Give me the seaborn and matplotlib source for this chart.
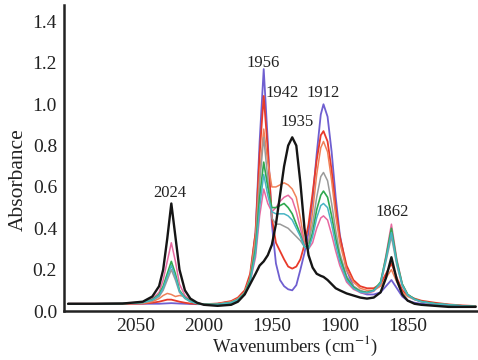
import numpy as np
import pandas as pd
import seaborn as sns
import matplotlib
matplotlib.use("Agg")
import matplotlib.pyplot as plt

wavenumbers = [2100, 2080, 2060, 2045, 2038, 2033, 2030, 2027, 2024, 2021, 2018, 2014, 2010, 2005, 2000,
               1990, 1980, 1975, 1970, 1966, 1962, 1959, 1956, 1953, 1950, 1947, 1944, 1941, 1938, 1935,
               1932, 1929, 1926, 1923, 1920, 1917, 1914, 1912, 1909, 1906, 1903, 1900, 1895, 1890, 1885,
               1880, 1875, 1870, 1866, 1862, 1858, 1854, 1850, 1845, 1840, 1830, 1820, 1810, 1800]

purple = [0.035, 0.035, 0.035, 0.035, 0.035, 0.035, 0.036, 0.037, 0.038, 0.037, 0.036, 0.035, 0.034, 0.033, 0.033,
          0.035, 0.045, 0.06, 0.09, 0.16, 0.38, 0.82, 1.17, 0.82, 0.42, 0.23, 0.15, 0.12, 0.105, 0.1,
          0.125, 0.2, 0.28, 0.38, 0.54, 0.76, 0.95, 1.0, 0.94, 0.77, 0.55, 0.37, 0.2, 0.12, 0.09,
          0.08, 0.08, 0.09, 0.12, 0.15, 0.11, 0.07, 0.05, 0.04, 0.035, 0.03, 0.026, 0.024, 0.022]

red = [0.035, 0.035, 0.035, 0.036, 0.04, 0.045, 0.05, 0.055, 0.055, 0.05, 0.045, 0.04, 0.036, 0.034, 0.033,
       0.036, 0.048, 0.065, 0.1, 0.18, 0.38, 0.76, 1.04, 0.78, 0.45, 0.33, 0.29, 0.25, 0.215, 0.205,
       0.215, 0.25, 0.32, 0.42, 0.57, 0.73, 0.85, 0.87, 0.82, 0.68, 0.5, 0.36, 0.22, 0.15, 0.12,
       0.11, 0.11, 0.13, 0.18, 0.23, 0.16, 0.1, 0.075, 0.06, 0.05, 0.04, 0.032, 0.027, 0.024]

orange = [0.035, 0.035, 0.035, 0.037, 0.045, 0.06, 0.075, 0.085, 0.08, 0.07, 0.075, 0.07, 0.05, 0.038, 0.033,
          0.035, 0.045, 0.06, 0.09, 0.16, 0.36, 0.66, 0.88, 0.72, 0.6, 0.6, 0.61, 0.62, 0.61, 0.59,
          0.55, 0.45, 0.33, 0.33, 0.48, 0.66, 0.79, 0.82, 0.77, 0.63, 0.46, 0.33, 0.2, 0.14, 0.11,
          0.1, 0.1, 0.12, 0.16, 0.2, 0.14, 0.09, 0.07, 0.055, 0.045, 0.035, 0.03, 0.025, 0.022]

gray = [0.035, 0.035, 0.036, 0.04, 0.05, 0.07, 0.1, 0.15, 0.2, 0.15, 0.09, 0.06, 0.045, 0.036, 0.032,
        0.033, 0.042, 0.058, 0.09, 0.16, 0.33, 0.62, 0.84, 0.64, 0.45, 0.42, 0.42, 0.41, 0.4, 0.38,
        0.36, 0.34, 0.31, 0.33, 0.42, 0.55, 0.65, 0.67, 0.63, 0.52, 0.39, 0.28, 0.17, 0.12, 0.1,
        0.09, 0.1, 0.13, 0.24, 0.36, 0.22, 0.12, 0.075, 0.055, 0.045, 0.035, 0.03, 0.025, 0.022]

green = [0.035, 0.035, 0.036, 0.042, 0.055, 0.08, 0.12, 0.18, 0.24, 0.18, 0.1, 0.065, 0.048, 0.037, 0.032,
         0.032, 0.04, 0.055, 0.085, 0.15, 0.3, 0.55, 0.72, 0.6, 0.5, 0.5, 0.51, 0.52, 0.5, 0.47,
         0.42, 0.37, 0.31, 0.31, 0.38, 0.49, 0.56, 0.58, 0.55, 0.46, 0.35, 0.26, 0.16, 0.115, 0.095,
         0.09, 0.1, 0.14, 0.26, 0.4, 0.24, 0.13, 0.08, 0.058, 0.046, 0.036, 0.03, 0.025, 0.022]

teal = [0.035, 0.035, 0.036, 0.041, 0.053, 0.075, 0.11, 0.165, 0.22, 0.165, 0.095, 0.062, 0.046, 0.036, 0.032,
        0.032, 0.04, 0.054, 0.083, 0.14, 0.28, 0.5, 0.66, 0.56, 0.48, 0.47, 0.47, 0.47, 0.46, 0.44,
        0.4, 0.36, 0.31, 0.3, 0.36, 0.45, 0.51, 0.52, 0.5, 0.42, 0.32, 0.24, 0.15, 0.11, 0.092,
        0.088, 0.098, 0.135, 0.25, 0.38, 0.23, 0.125, 0.078, 0.056, 0.045, 0.035, 0.03, 0.025, 0.022]

pink = [0.035, 0.035, 0.037, 0.043, 0.06, 0.09, 0.15, 0.24, 0.33, 0.24, 0.13, 0.075, 0.05, 0.038, 0.032,
        0.03, 0.038, 0.052, 0.08, 0.14, 0.26, 0.46, 0.59, 0.52, 0.48, 0.5, 0.53, 0.55, 0.56, 0.54,
        0.48, 0.4, 0.32, 0.3, 0.33, 0.4, 0.45, 0.46, 0.44, 0.37, 0.29, 0.22, 0.14, 0.105, 0.09,
        0.085, 0.095, 0.135, 0.27, 0.42, 0.25, 0.13, 0.08, 0.057, 0.045, 0.035, 0.03, 0.025, 0.022]

black = [0.035, 0.035, 0.036, 0.045, 0.07, 0.12, 0.2, 0.35, 0.52, 0.36, 0.2, 0.1, 0.06, 0.04, 0.03,
         0.025, 0.03, 0.045, 0.08, 0.13, 0.18, 0.22, 0.24, 0.27, 0.32, 0.42, 0.56, 0.7, 0.8, 0.84,
         0.8, 0.62, 0.4, 0.27, 0.21, 0.18, 0.17, 0.165, 0.15, 0.13, 0.11, 0.1, 0.085, 0.075, 0.065,
         0.06, 0.065, 0.09, 0.16, 0.26, 0.15, 0.08, 0.05, 0.035, 0.03, 0.025, 0.02, 0.02, 0.02]

series_names = ["purple", "red", "orange", "gray", "pink", "green", "teal", "black"]
series_values = [purple, red, orange, gray, pink, green, teal, black]
series_colors = ["#6f5fd0", "#e83a2a", "#f08058", "#9a9a9a", "#e868a0", "#2fa84f", "#48b4c4", "#151515"]
series_widths = [1.3, 1.3, 1.1, 1.1, 1.1, 1.2, 1.1, 1.7]

peak_labels = ["2024", "1956", "1942", "1935", "1912", "1862"]
peak_label_x = [2025, 1956.6, 1942.6, 1931.6, 1912.5, 1861.8]
peak_label_y = [0.57, 1.20, 1.056, 0.916, 1.056, 0.48]

x_ticks = [2050, 2000, 1950, 1900, 1850]
y_ticks = [0.0, 0.2, 0.4, 0.6, 0.8, 1.0, 1.2, 1.4]

rows = []
for name, vals in zip(series_names, series_values):
    for w, v in zip(wavenumbers, vals):
        rows.append({"wn": w, "absorbance": v, "series": name})
df = pd.DataFrame(rows)

sns.set_style("white")
plt.rcParams['font.family'] = ['Liberation Serif', 'DejaVu Serif']
plt.rcParams['mathtext.fontset'] = 'stix'

fig = plt.figure(figsize=(4.78, 3.6), dpi=100)
ax = fig.add_axes([64 / 478, 49 / 360, 413 / 478, 306 / 360])

for name, col, lw in zip(series_names, series_colors, series_widths):
    sub = df[df["series"] == name]
    sns.lineplot(data=sub, x="wn", y="absorbance", color=col, linewidth=lw, sort=False, ax=ax, legend=False)

for t, x, y in zip(peak_labels, peak_label_x, peak_label_y):
    ax.text(x, y, t, ha="center", va="center", fontsize=12, color="#222222")

ax.set_xlim(2103, 1799)
ax.set_ylim(0, 1.48)
ax.set_xticks(x_ticks)
ax.set_yticks(y_ticks)
ax.set_yticklabels([f"{v:.1f}" for v in y_ticks])
ax.tick_params(axis="both", labelsize=14, colors="#333333", length=3, width=1, direction="out", pad=2)
ax.tick_params(axis="both", labelcolor="#222222")
for s in ["top", "right"]:
    ax.spines[s].set_visible(False)
for s in ["left", "bottom"]:
    ax.spines[s].set_color("#222222")
    ax.spines[s].set_linewidth(1.8)

ax.set_xlabel("Wavenumbers (cm$^{-1}$)", fontsize=13.5, color="#222222")
ax.set_ylabel("Absorbance", fontsize=15.5, color="#222222")
ax.xaxis.set_label_coords(0.56, -0.075)
ax.yaxis.set_label_coords(-0.087, 0.43)

fig.savefig("out.png", dpi=100)
